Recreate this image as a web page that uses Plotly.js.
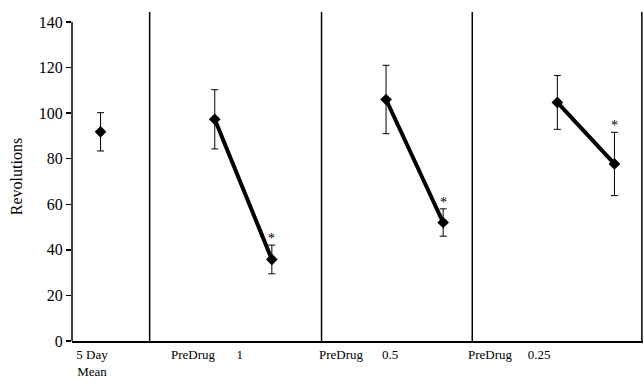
<!DOCTYPE html>
<html>
<head>
<meta charset="utf-8">
<script src="https://cdn.plot.ly/plotly-3.0.1.min.js"></script>
<style>html,body{margin:0;padding:0;background:#fff}#chart{width:644px;height:388px}</style>
</head>
<body>
<div id="chart"></div>
<script>
// Data
const baselineX = [0.5];
const baselineMean = [91.8];
const baselineErr = [8.4];

const dose1X = [2.5, 3.5];
const dose1Mean = [97.3, 35.8];
const dose1Err = [13.0, 6.3];

const dose05X = [5.5, 6.5];
const dose05Mean = [106.0, 52.0];
const dose05Err = [15.0, 6.0];

const dose025X = [8.5, 9.5];
const dose025Mean = [104.7, 77.7];
const dose025Err = [11.8, 13.9];

const tickLabels = ['5 Day<br>Mean', 'PreDrug', '1', 'PreDrug', '0.5', 'PreDrug', '0.25'];
const tickPositions = [0.35, 2.12, 2.94, 4.71, 5.57, 7.32, 8.18];
const separators = [1.36, 4.37, 7.01, 9.98];
const yTicks = [0, 20, 40, 60, 80, 100, 120, 140];

const sigX = [dose1X[1], dose05X[1], dose025X[1]];
const sigTop = [dose1Mean[1] + dose1Err[1], dose05Mean[1] + dose05Err[1], dose025Mean[1] + dose025Err[1]];

const FONT = 'Liberation Serif';

function series(x, y, e, withLine) {
  return {
    type: 'scatter',
    mode: withLine ? 'lines+markers' : 'markers',
    x: x, y: y,
    line: {color: '#000', width: 4},
    marker: {symbol: 'diamond', size: 9, color: '#000'},
    error_y: {type: 'data', array: e, visible: true, color: '#000', thickness: 1, width: 3.5},
    showlegend: false,
    hoverinfo: 'none'
  };
}

const data = [
  series(baselineX, baselineMean, baselineErr, false),
  series(dose1X, dose1Mean, dose1Err, true),
  series(dose05X, dose05Mean, dose05Err, true),
  series(dose025X, dose025Mean, dose025Err, true)
];

const shapes = separators.map(s => ({
  type: 'line', xref: 'x', yref: 'paper', x0: s, x1: s, y0: 0, y1: 1,
  line: {color: '#000', width: 1.5}
}));
shapes.push({type: 'line', xref: 'paper', yref: 'y', x0: 0, x1: 0, y0: 0, y1: 140,
  line: {color: '#000', width: 1.5}});

const annotations = sigX.map((x, i) => ({
  x: x, y: sigTop[i], xref: 'x', yref: 'y', text: '*', showarrow: false,
  yanchor: 'bottom', yshift: -3,
  font: {family: FONT, size: 14, color: '#000'}
}));

const layout = {
  width: 644, height: 388,
  margin: {l: 72, r: 1, t: 12, b: 47},
  paper_bgcolor: '#fff', plot_bgcolor: '#fff',
  font: {family: FONT, color: '#000'},
  xaxis: {
    range: [0, 10], showgrid: false, zeroline: false,
    showline: true, linecolor: '#000', linewidth: 2,
    tickmode: 'array', tickvals: tickPositions, ticktext: tickLabels,
    ticks: '', tickfont: {size: 13, family: FONT, color: '#000'},
    fixedrange: true
  },
  yaxis: {
    range: [0, 144.4], showgrid: false, zeroline: false, showline: false,
    tickmode: 'array', tickvals: yTicks,
    ticks: 'outside', ticklen: 5, tickwidth: 1.5, tickcolor: '#000',
    tickfont: {size: 16, family: FONT, color: '#000'},
    title: {text: 'Revolutions', font: {size: 16, family: FONT, color: '#000'}, standoff: 12},
    fixedrange: true
  },
  shapes: shapes,
  annotations: annotations
};

Plotly.newPlot('chart', data, layout, {displayModeBar: false, staticPlot: true});
</script>
</body>
</html>
